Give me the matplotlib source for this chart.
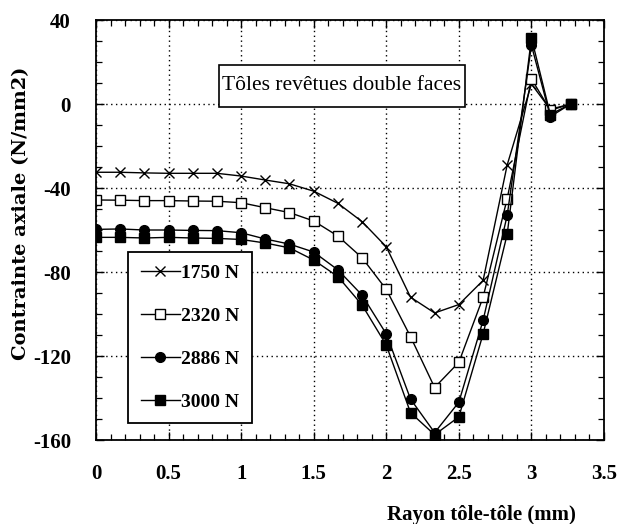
import matplotlib
matplotlib.use("Agg")
import matplotlib.pyplot as plt
from matplotlib.ticker import MultipleLocator, FixedLocator
from matplotlib.patches import Rectangle

plt.rcParams['axes.unicode_minus'] = False

# ---- data ----
rayon = [0, 0.167, 0.333, 0.5, 0.667, 0.833, 1.0, 1.167, 1.333, 1.5, 1.667,
         1.833, 2.0, 2.167, 2.333, 2.5, 2.667, 2.833, 3.0, 3.13, 3.27]
s1750 = [-32.5, -32.5, -32.8, -33, -33, -33, -34.3, -36.2, -38, -41.5, -47.3,
         -56, -68, -92, -99.5, -95.5, -84, -29, 9.5, -2.5, 0]
s2320 = [-45.7, -45.8, -46, -46, -46.2, -46.3, -47, -49.4, -51.7, -55.7, -62.9,
         -73.2, -88.3, -110.8, -135, -123, -92, -45, 12, -3, 0]
s2886 = [-59.7, -59.5, -60, -60, -60.2, -60.3, -61.3, -64.3, -66.7, -70.5, -79,
         -91, -109.5, -140.5, -156.5, -142, -103, -53, 28, -6, 0]
s3000 = [-63.5, -63.5, -63.8, -63.5, -63.8, -64, -64.5, -66.2, -68.5, -74.3, -82.2,
         -95.7, -114.8, -147, -157.5, -149, -109.5, -62, 31.5, -5, 0]
labels = ["1750 N", "2320 N", "2886 N", "3000 N"]
xticks = [0, 0.5, 1, 1.5, 2, 2.5, 3, 3.5]
xticklabels = ["0", "0.5", "1", "1.5", "2", "2.5", "3", "3.5"]
yticks = [-160, -120, -80, -40, 0, 40]
yticklabels = ["-160", "-120", "-80", "-40", "0", "40"]
title_text = "Tôles revêtues double faces"
xlabel = "Rayon tôle-tôle (mm)"
ylabel = "Contrainte axiale (N/mm2)"

fig = plt.figure(figsize=(6.34, 5.24), dpi=100)
ax = fig.add_axes([0.1514, 0.1603, 0.8013, 0.8015])

serif = ['Liberation Serif', 'DejaVu Serif']
lw = 1.0
ax.plot(rayon, s1750, color='black', lw=lw, marker='x', ms=6.5, mew=1.0, label=labels[0])
ax.plot(rayon, s2320, color='black', lw=lw, marker='s', ms=6.5, mfc='white', mew=1.0, label=labels[1])
ax.plot(rayon, s2886, color='black', lw=lw, marker='o', ms=7, mfc='black', label=labels[2])
ax.plot(rayon, s3000, color='black', lw=lw, marker='s', ms=6.5, mfc='black', label=labels[3])

ax.set_xlim(0, 3.5)
ax.set_ylim(-160, 40)
ax.xaxis.set_major_locator(FixedLocator(xticks))
ax.yaxis.set_major_locator(FixedLocator(yticks))
ax.xaxis.set_minor_locator(MultipleLocator(0.1))
ax.yaxis.set_minor_locator(MultipleLocator(10))
ax.set_xticklabels(xticklabels, fontfamily=serif, fontweight='bold', fontsize=15)
ax.set_yticklabels(yticklabels, fontfamily=serif, fontweight='bold', fontsize=15)
ax.tick_params(which='both', direction='in', top=True, right=True, color='black')
ax.tick_params(axis='x', which='major', length=6, width=1.0, pad=17)
ax.tick_params(axis='y', which='major', length=6, width=1.0, pad=18)
ax.tick_params(which='minor', length=4, width=0.9)
for sp in ax.spines.values():
    sp.set_linewidth(1.3)
    sp.set_color('black')

ax.grid(True, which='major', linestyle=(0, (1, 2.5)), color='black', linewidth=1.0)
ax.set_axisbelow(True)

# annotation box
ax.add_patch(Rectangle((0.845, -1.2), 1.70, 19.8, fc='white', ec='black', lw=1.2, zorder=3))
ax.text(1.695, 8.6, title_text, fontfamily=serif, fontsize=15.5, ha='center', va='center', zorder=4)

leg = ax.legend(loc='lower left', bbox_to_anchor=(0.063, 0.040), frameon=True,
                fancybox=False, edgecolor='black', framealpha=1,
                prop=dict(family=serif, weight='bold', size=14),
                labelspacing=1.3, handlelength=2.0, handletextpad=0.1,
                borderpad=0.65, borderaxespad=0)
leg.get_frame().set_linewidth(1.3)

ax.set_ylabel(ylabel, fontfamily=['DejaVu Serif'], fontweight='bold', fontsize=14)
ax.yaxis.set_label_coords(-0.13, 0.54)
ax.set_xlabel(xlabel, fontfamily=serif, fontweight='bold', fontsize=15, ha='right')
ax.xaxis.set_label_coords(0.945, -0.155)

fig.savefig("out.png", dpi=100)
